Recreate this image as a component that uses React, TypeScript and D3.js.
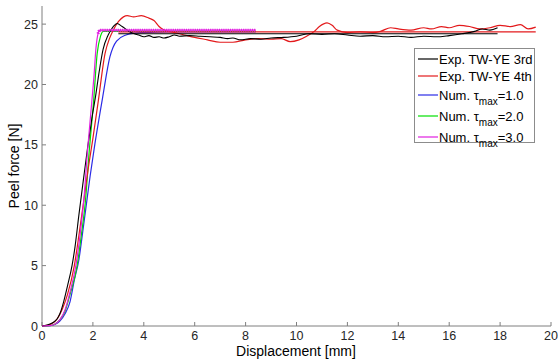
import React from "react";
import * as d3 from "d3";

// experimental curves [displacement mm, force N]
const exp3rd: [number, number][] = [
  [0, 0], [0.2, 0.08], [0.4, 0.25], [0.6, 0.6], [0.71, 1.05], [0.85, 2.0], [1.0, 3.3], [1.18, 5.0],
  [1.3, 6.6], [1.45, 9.2], [1.62, 12.0], [1.8, 14.9], [1.96, 17.2], [2.11, 19.1], [2.25, 21.1],
  [2.4, 22.9], [2.6, 24.1], [2.8, 24.8], [2.95, 25.05], [3.15, 24.8], [3.5, 24.3], [3.8, 24.1],
  [4.0, 23.95], [4.2, 24.05], [4.4, 23.9], [4.6, 23.95], [4.8, 23.85], [5.0, 23.95], [5.2, 24.1],
  [5.4, 24.0], [5.8, 24.05], [6.2, 24.0], [6.6, 23.95], [7.0, 23.9], [7.3, 23.8], [7.5, 23.85],
  [7.8, 23.7], [8.2, 23.8], [8.6, 23.75], [9.0, 23.85], [9.5, 23.9], [10.0, 24.0], [10.5, 24.2],
  [11.0, 24.15], [11.5, 24.2], [12.0, 24.1], [12.5, 24.0], [13.0, 24.05], [13.5, 23.95],
  [14.0, 24.0], [14.5, 23.9], [15.0, 24.0], [15.5, 23.95], [16.0, 24.05], [16.5, 24.2],
  [17.0, 24.4], [17.3, 24.6], [17.6, 24.5], [17.9, 24.7],
];

const exp4th: [number, number][] = [
  [0, 0], [0.2, 0.05], [0.4, 0.2], [0.6, 0.6], [0.8, 1.4], [1.0, 2.6], [1.27, 5.0], [1.45, 7.5],
  [1.65, 10.5], [1.82, 13.1], [1.99, 15.4], [2.21, 18.6], [2.48, 22.6], [2.65, 23.8], [2.8, 24.5],
  [3.0, 25.2], [3.2, 25.6], [3.35, 25.7], [3.6, 25.6], [3.9, 25.7], [4.2, 25.5], [4.4, 25.3],
  [4.6, 24.8], [4.8, 24.5], [5.2, 24.3], [5.6, 24.1], [6.0, 23.9], [6.5, 23.7], [7.0, 23.5],
  [7.5, 23.5], [8.0, 23.7], [8.5, 23.8], [9.0, 23.75], [9.4, 23.8], [9.75, 23.55], [10.1, 23.7],
  [10.4, 24.0], [10.7, 24.4], [10.9, 24.8], [11.2, 25.1], [11.4, 24.9], [11.6, 24.5], [12.0, 24.3],
  [12.5, 24.35], [13.0, 24.3], [13.3, 24.4], [13.7, 24.7], [14.0, 24.6], [14.5, 24.5],
  [15.0, 24.7], [15.3, 24.6], [15.7, 24.8], [16.0, 24.7], [16.4, 24.9], [16.8, 24.8],
  [17.2, 24.6], [17.6, 24.7], [18.0, 24.9], [18.4, 24.8], [18.8, 24.95], [19.1, 24.6],
  [19.4, 24.75],
];

// numerical curves
const numTau1: [number, number][] = [
  [0, 0], [0.3, 0.03], [0.5, 0.12], [0.7, 0.4], [0.9, 1.0], [1.1, 2.0], [1.27, 3.8], [1.45, 5.5],
  [1.6, 7.8], [1.72, 9.7], [1.89, 12.4], [2.08, 15.1], [2.38, 18.9], [2.67, 22.3], [2.93, 23.6],
  [3.3, 24.1], [3.6, 24.25], [4.0, 24.3], [5.0, 24.35], [8.4, 24.35],
];
const numTau2: [number, number][] = [
  [0, 0], [0.3, 0.03], [0.5, 0.15], [0.7, 0.5], [0.9, 1.2], [1.1, 2.6], [1.38, 5.0], [1.55, 7.6],
  [1.7, 10.2], [1.86, 14.6], [2.02, 18.4], [2.17, 22.6], [2.3, 24.0], [2.41, 24.4], [8.4, 24.4],
];
const numTau3: [number, number][] = [
  [0, 0], [0.3, 0.03], [0.5, 0.15], [0.7, 0.5], [0.9, 1.3], [1.1, 2.8], [1.33, 5.0], [1.5, 7.6],
  [1.65, 10.6], [1.8, 14.8], [1.95, 18.4], [2.05, 20.9], [2.12, 23.0], [2.2, 24.2], [2.27, 24.5],
  [8.4, 24.5],
];

// average force lines
const mean3rd: [number, number][] = [[3.0, 24.2], [17.9, 24.2]];
const mean4th: [number, number][] = [[3.0, 24.35], [19.4, 24.35]];

const xTicks = [0, 2, 4, 6, 8, 10, 12, 14, 16, 18, 20];
const yTicks = [0, 5, 10, 15, 20, 25];

const legendItems = [
  { label: "Exp. TW-YE 3rd", sub: "", rest: "", color: "#000000" },
  { label: "Exp. TW-YE 4th", sub: "", rest: "", color: "#e31a1c" },
  { label: "Num. \u03c4", sub: "max", rest: "=1.0", color: "#2a2ae6" },
  { label: "Num. \u03c4", sub: "max", rest: "=2.0", color: "#00e000" },
  { label: "Num. \u03c4", sub: "max", rest: "=3.0", color: "#e020e0" },
];

const W = 558;
const H = 360;

export default function App() {
  const x = d3.scaleLinear().domain([0, 20]).range([42, 551]);
  const y = d3.scaleLinear().domain([0, 26.5]).range([326, 6]);
  const line = d3
    .line<[number, number]>()
    .x((d) => x(d[0]))
    .y((d) => y(d[1]))
    .curve(d3.curveMonotoneX);

  const axisColor = "#7f7f7f";
  const font = "Arial, 'Liberation Sans', sans-serif";
  const rowY = [59, 76, 95, 116, 137];

  return (
    <svg width={W} height={H} style={{ position: "absolute", left: 0, top: 0, background: "#fff" }}>
      {/* axes */}
      <line x1={x(0)} x2={x(20)} y1={y(0)} y2={y(0)} stroke={axisColor} />
      <line x1={x(0)} x2={x(0)} y1={y(0)} y2={y(26.5)} stroke={axisColor} />
      {xTicks.map((t) => (
        <g key={"x" + t}>
          <line x1={x(t)} x2={x(t)} y1={y(0)} y2={y(0) - 4} stroke={axisColor} />
          <text x={x(t)} y={340} textAnchor="middle" fontSize={12.5} fontFamily={font} fill="#262626">
            {t}
          </text>
        </g>
      ))}
      {yTicks.map((t) => (
        <g key={"y" + t}>
          <line x1={x(0)} x2={x(0) + 4} y1={y(t)} y2={y(t)} stroke={axisColor} />
          <text x={38} y={y(t) + 4.5} textAnchor="end" fontSize={12.5} fontFamily={font} fill="#262626">
            {t}
          </text>
        </g>
      ))}
      <text x={296} y={356} textAnchor="middle" fontSize={14} fontFamily={font} fill="#000">
        Displacement [mm]
      </text>
      <text
        transform={`translate(19,166) rotate(-90)`}
        textAnchor="middle"
        fontSize={14}
        fontFamily={font}
        fill="#000"
      >
        Peel force [N]
      </text>

      {/* curves */}
      <path d={line(numTau1) || ""} fill="none" stroke="#2a2ae6" strokeWidth={1.2} />
      <path d={line(numTau2) || ""} fill="none" stroke="#00e000" strokeWidth={1.2} />
      <path d={line(exp4th) || ""} fill="none" stroke="#e31a1c" strokeWidth={1.2} />
      <path d={line(mean4th) || ""} fill="none" stroke="#e31a1c" strokeWidth={1.2} />
      <path d={line(exp3rd) || ""} fill="none" stroke="#000" strokeWidth={1.1} />
      <path d={line(mean3rd) || ""} fill="none" stroke="#000" strokeWidth={1.1} />
      <path d={line(numTau3) || ""} fill="none" stroke="#e020e0" strokeWidth={1.2} />
      <path
        d={line(numTau3.filter((d) => d[0] >= 2.2)) || ""}
        fill="none"
        stroke="#e020e0"
        strokeWidth={3}
        strokeDasharray="1.2,1"
      />

      {/* legend */}
      <rect x={414.5} y={48.5} width={120} height={94} fill="#fff" stroke="#8c8c8c" />
      {legendItems.map((it, i) => (
        <g key={it.label + i}>
          <line x1={418} x2={438} y1={rowY[i]} y2={rowY[i]} stroke={it.color} strokeWidth={1.2} />
          <text x={439} y={rowY[i] + 4.5} fontSize={13} fontFamily={font} fill="#000">
            {it.label}
            {it.sub && (
              <tspan fontSize={10} dy={5}>
                {it.sub}
              </tspan>
            )}
            {it.rest && <tspan dy={it.sub ? -5 : 0}>{it.rest}</tspan>}
          </text>
        </g>
      ))}
    </svg>
  );
}
